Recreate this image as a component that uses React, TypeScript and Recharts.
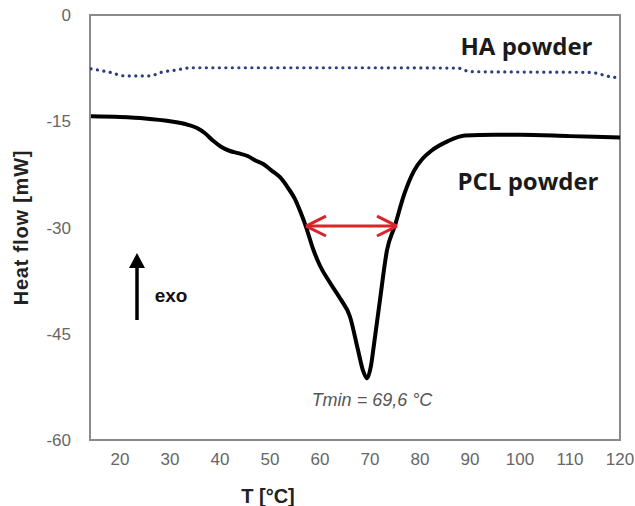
import React from 'react';
import { LineChart, Line, XAxis, YAxis, ReferenceArea, ReferenceLine, ReferenceDot, Label } from 'recharts';

const pclTemp = [14.2, 20, 25, 30, 33.6, 35.5, 37, 38.7, 40.2, 42, 43.6, 45.5, 47, 48.8, 50.2, 52, 53.6, 55, 56.2, 57.2, 58.6, 60, 62, 64, 66, 67.6, 68.6, 69.4, 70.2, 70.8, 72, 73.4, 75, 76.8, 78.8, 80.5, 82.2, 85.6, 89, 95, 100, 110, 120];
const pclFlow = [-14.3, -14.4, -14.6, -15.0, -15.5, -16.0, -16.7, -17.8, -18.6, -19.2, -19.5, -19.9, -20.5, -21.1, -21.9, -22.9, -24.4, -26.0, -28.0, -29.9, -33.0, -35.4, -37.8, -40.0, -42.6, -47.3, -50.2, -51.3, -49.5, -46.5, -40.2, -33.2, -29.7, -25.4, -22.0, -20.3, -19.2, -17.8, -17.0, -16.9, -16.9, -17.1, -17.3];

const haTemp = [14.2, 18, 21, 26, 28.2, 31, 34.2, 50, 70, 87.6, 90, 100, 114, 118, 120];
const haFlow = [-7.6, -8.1, -8.6, -8.6, -8.1, -7.8, -7.45, -7.45, -7.45, -7.5, -8.0, -8.05, -8.1, -8.7, -8.9];

const xTicks = [20, 30, 40, 50, 60, 70, 80, 90, 100, 110, 120];
const yTicks = [-60, -45, -30, -15, 0];

// half-width arrow: from the left flank to the right flank of the peak
const fwhmLeft = 57.2;
const fwhmRight = 75.4;
const fwhmLevel = -29.8;
const tMin = 69.6;

const pclData = pclTemp.map((t, i) => ({ t, flow: pclFlow[i] }));
const haData = haTemp.map((t, i) => ({ t, flow: haFlow[i] }));

const red = '#d6262a';
const sans = 'Liberation Sans, Arial, sans-serif';
const tickStyle = { fill: '#666', fontSize: 17, fontFamily: sans };

const textAt = (text: string, style: React.CSSProperties) => (props: any) => (
  <text x={props.cx} y={props.cy} textAnchor="middle" dominantBaseline="central" style={style}>
    {text}
  </text>
);

const ExoArrow = (props: any) => {
  const { cx, cy } = props;
  return (
    <g>
      <line x1={cx} y1={cy + 12} x2={cx} y2={cy + 67} stroke="#000" strokeWidth={3.5} />
      <path d={`M${cx - 8},${cy + 15} L${cx},${cy} L${cx + 8},${cy + 15} Z`} fill="#000" />
    </g>
  );
};

export default function App() {
  return (
    <div style={{ position: 'absolute', left: 0, top: 0 }}>
      <LineChart width={635} height={506} margin={{ top: 15, right: 15, left: 0, bottom: 0 }}>
        <XAxis
          type="number"
          dataKey="t"
          domain={[14, 120]}
          ticks={xTicks}
          interval={0}
          allowDataOverflow
          tickSize={0}
          tickMargin={13}
          tick={tickStyle}
          axisLine={false}
          height={66}
        >
          <Label
            value="T [°C]"
            position="insideBottom"
            dx={-87}
            offset={3}
            style={{ fontSize: 20, fontWeight: 'bold', fill: '#222', fontFamily: sans }}
          />
        </XAxis>
        <YAxis
          type="number"
          domain={[-60, 0]}
          ticks={yTicks}
          interval={0}
          allowDataOverflow
          tickSize={0}
          tickMargin={19}
          tick={tickStyle}
          axisLine={false}
          width={90}
        >
          <Label
            value="Heat flow [mW]"
            angle={-90}
            position="insideLeft"
            offset={16}
            dx={5}
            style={{ textAnchor: 'middle', fontSize: 20, letterSpacing: 0.8, fontWeight: 'bold', fill: '#222', fontFamily: sans }}
          />
        </YAxis>
        <ReferenceArea x1={14} x2={120} y1={-60} y2={0} fill="none" stroke="#8a8a8a" strokeWidth={2} ifOverflow="visible" />
        <Line
          data={haData}
          dataKey="flow"
          type="monotone"
          stroke="#2b3f7e"
          strokeWidth={3.2}
          strokeDasharray="0.1 6.4"
          strokeLinecap="round"
          dot={false}
          isAnimationActive={false}
        />
        <Line
          data={pclData}
          dataKey="flow"
          type="monotone"
          stroke="#000"
          strokeWidth={4}
          dot={false}
          isAnimationActive={false}
        />
        <ReferenceLine segment={[{ x: fwhmLeft, y: fwhmLevel }, { x: fwhmRight, y: fwhmLevel }]} stroke={red} strokeWidth={3} />
        <ReferenceLine segment={[{ x: fwhmLeft, y: fwhmLevel }, { x: fwhmLeft + 4, y: fwhmLevel + 1.4 }]} stroke={red} strokeWidth={3} />
        <ReferenceLine segment={[{ x: fwhmLeft, y: fwhmLevel }, { x: fwhmLeft + 4, y: fwhmLevel - 1.4 }]} stroke={red} strokeWidth={3} />
        <ReferenceLine segment={[{ x: fwhmRight, y: fwhmLevel }, { x: fwhmRight - 4, y: fwhmLevel + 1.4 }]} stroke={red} strokeWidth={3} />
        <ReferenceLine segment={[{ x: fwhmRight, y: fwhmLevel }, { x: fwhmRight - 4, y: fwhmLevel - 1.4 }]} stroke={red} strokeWidth={3} />
        <ReferenceDot x={23.4} y={-33.6} r={0} shape={ExoArrow} />
        <ReferenceDot
          x={30.2}
          y={-39.6}
          r={0}
          shape={textAt('exo', { fontSize: 19, fontWeight: 'bold', fill: '#111', fontFamily: sans })}
        />
        <ReferenceDot
          x={70.4}
          y={-54.4}
          r={0}
          shape={textAt(`Tmin = ${String(tMin).replace('.', ',')} °C`, { fontSize: 18, fontStyle: 'italic', fill: '#555', fontFamily: sans })}
        />
        <ReferenceDot
          x={101.3}
          y={-4.3}
          r={0}
          shape={textAt('HA powder', { fontSize: 24, fontWeight: 'bold', fill: '#1a1a1a', fontFamily: 'Open Sans, sans-serif' })}
        />
        <ReferenceDot
          x={101.6}
          y={-23.4}
          r={0}
          shape={textAt('PCL powder', { fontSize: 24, fontWeight: 'bold', fill: '#1a1a1a', fontFamily: 'Open Sans, sans-serif' })}
        />
      </LineChart>
    </div>
  );
}
